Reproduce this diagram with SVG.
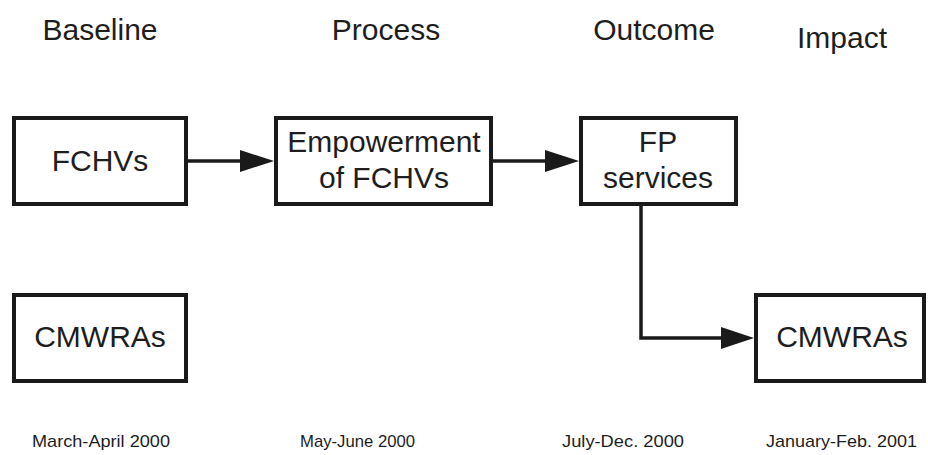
<svg xmlns="http://www.w3.org/2000/svg" width="928" height="455" viewBox="0 0 928 455">
<style>
text{font-family:"Liberation Sans",Arial,sans-serif;fill:#1e1e1e}
.h{font-size:30px;text-anchor:middle}
.n{font-size:30px;text-anchor:middle}
.d{font-size:17px}
.box{fill:#fff;stroke:#1a1a1a;stroke-width:4}
.c{fill:none;stroke:#1a1a1a;stroke-width:3.5}
.ah{fill:#1a1a1a}
</style>
<g id="headings">
<text class="h" x="100" y="40">Baseline</text>
<text class="h" x="386" y="40">Process</text>
<text class="h" x="654" y="40">Outcome</text>
<text class="h" x="842" y="48">Impact</text>
</g>
<g id="connectors">
<line class="c" x1="188" y1="161" x2="242" y2="161"/>
<polygon class="ah" points="240,150 274,161 240,172"/>
<line class="c" x1="493" y1="161" x2="547" y2="161"/>
<polygon class="ah" points="545,150 579,161 545,172"/>
<path class="c" d="M641,206 V338 H723"/>
<polygon class="ah" points="721,327 754,338 721,349"/>
</g>
<g id="fchvs">
<rect class="box" x="14" y="118" width="172" height="86"/>
<text class="n" x="100" y="171">FCHVs</text>
</g>
<g id="empowerment">
<rect class="box" x="276" y="118" width="215" height="86"/>
<text class="n" x="384" y="152">Empowerment</text>
<text class="n" x="384" y="188">of FCHVs</text>
</g>
<g id="fp">
<rect class="box" x="581" y="118" width="155" height="86"/>
<text class="n" x="658" y="152">FP</text>
<text class="n" x="658" y="188">services</text>
</g>
<g id="cmwras-baseline">
<rect class="box" x="14" y="295" width="172" height="86"/>
<text class="n" x="100" y="347">CMWRAs</text>
</g>
<g id="cmwras-impact">
<rect class="box" x="756" y="295" width="168" height="86"/>
<text class="n" x="842" y="347">CMWRAs</text>
</g>
<g id="dates">
<text class="d" x="32" y="447" textLength="138" lengthAdjust="spacingAndGlyphs">March-April 2000</text>
<text class="d" x="300" y="447" textLength="115" lengthAdjust="spacingAndGlyphs">May-June 2000</text>
<text class="d" x="562" y="447" textLength="122" lengthAdjust="spacingAndGlyphs">July-Dec. 2000</text>
<text class="d" x="766" y="447" textLength="151" lengthAdjust="spacingAndGlyphs">January-Feb. 2001</text>
</g>
</svg>
